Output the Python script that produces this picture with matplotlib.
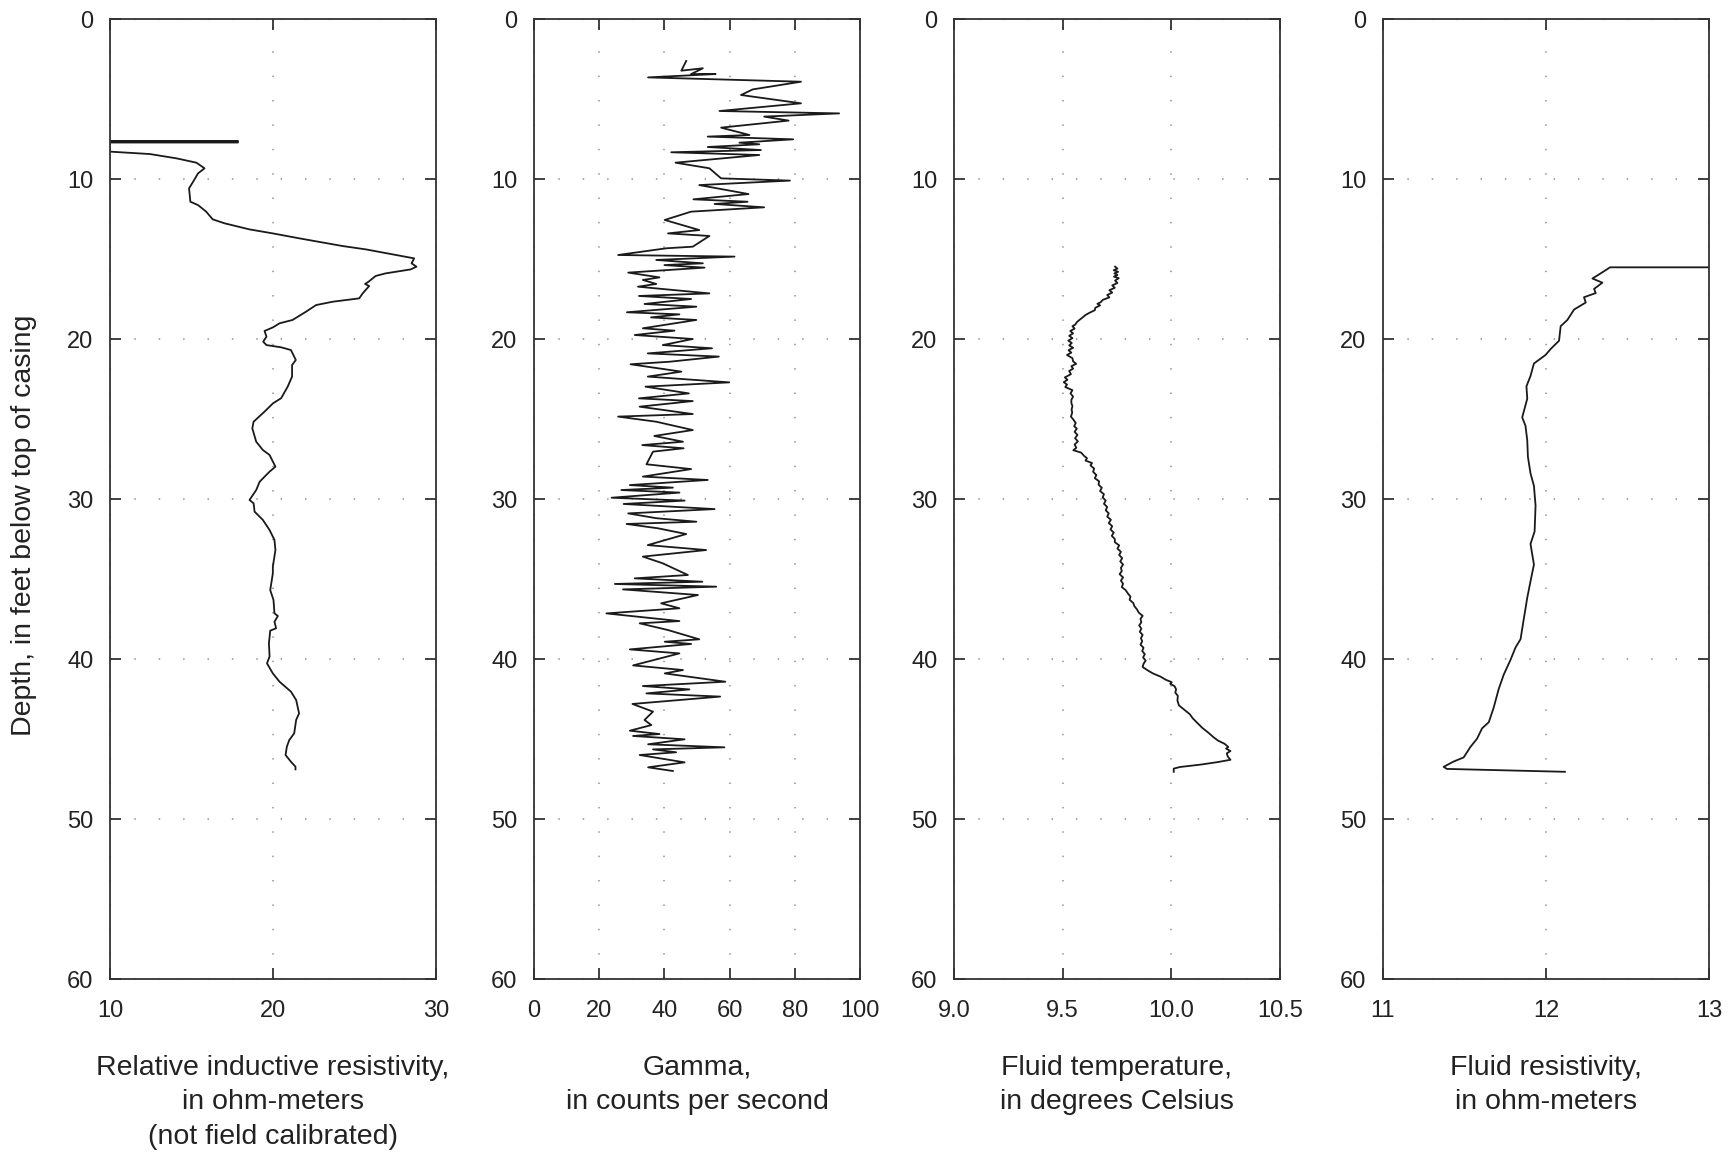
import numpy as np
import matplotlib
matplotlib.use("Agg")
import matplotlib.pyplot as plt

plt.rcParams['font.family'] = ['Liberation Sans', 'DejaVu Sans']

# relative inductive resistivity (ohm-m) vs depth (ft)
res_depth = [7.62, 7.62, 7.72, 7.72, 8.29, 8.44, 8.71, 8.98, 9.33, 9.65, 10.17, 10.58, 11.42, 11.63,
             12.04, 12.52, 12.77, 13.15, 13.40, 13.71, 14.19, 14.40, 14.96, 15.27, 15.48, 15.65,
             15.90, 16.06, 16.42, 16.56, 16.69, 17.15, 17.46, 17.67, 17.88, 18.29, 18.81, 19.02,
             19.27, 19.50, 19.85, 20.17, 20.38, 20.52, 20.69, 21.31, 21.63, 22.35, 22.98, 23.70,
             24.02, 24.54, 25.17, 25.58, 26.42, 26.94, 27.25, 27.98, 28.29, 28.92, 29.44, 30.06,
             30.27, 30.79, 31.31, 31.94, 32.56, 33.19, 34.23, 34.65, 35.69, 36.31, 37.15, 37.31,
             37.67, 38.08, 38.23, 39.02, 39.85, 40.27, 40.90, 41.42, 42.04, 42.56, 43.40, 43.81,
             44.65, 45.06, 45.48, 46.00, 46.42, 46.73, 46.90]
res_value = [10.0, 17.85, 17.85, 10.0, 10.0, 12.45, 14.08, 15.3, 15.8, 15.4, 15.1, 14.85, 14.93, 15.4,
             15.9, 16.3, 17.03, 18.56, 19.99, 21.62, 24.27, 25.7, 28.66, 28.5, 28.8, 28.45,
             26.9, 26.3, 25.86, 25.65, 25.9, 25.5, 25.29, 23.66, 22.64, 22.03, 21.2, 20.4,
             20.0, 19.48, 19.6, 19.4, 19.6, 20.5, 21.1, 21.4, 21.17, 21.17, 20.9, 20.5,
             20.0, 19.48, 18.81, 18.73, 18.97, 19.38, 19.79, 20.15, 19.79, 19.18, 18.97, 18.56,
             18.81, 18.87, 19.38, 19.79, 20.09, 20.15, 19.99, 19.99, 19.83, 20.03, 20.09, 20.3,
             20.09, 20.19, 19.83, 19.75, 19.79, 19.63, 19.99, 20.4, 21.1, 21.42, 21.6, 21.42,
             21.3, 21.0, 20.85, 20.77, 21.1, 21.38, 21.38]

# gamma (counts per second)
gam_depth = [2.62, 3.23, 3.08, 3.44, 3.44, 3.65, 3.92, 4.40, 4.75, 5.27, 5.75, 5.90, 6.10, 6.35,
             6.79, 7.25, 7.35, 7.52, 7.73, 7.83, 8.00, 8.19, 8.33, 8.50, 8.98, 9.33, 9.96, 10.10,
             10.38, 10.94, 11.27, 11.42, 11.56, 11.77, 12.04, 12.56, 13.19, 13.40, 13.56, 14.23,
             14.33, 14.75, 14.85, 15.06, 15.27, 15.38, 15.54, 15.85, 16.15, 16.31, 16.56, 16.73,
             17.15, 17.31, 17.50, 17.81, 17.98, 18.33, 18.46, 18.65, 18.81, 19.33, 19.48, 19.75,
             20.00, 20.38, 20.58, 20.90, 21.10, 21.42, 21.58, 22.04, 22.35, 22.71, 22.98, 23.40,
             23.71, 23.88, 24.23, 24.69, 24.85, 25.17, 25.69, 26.06, 26.42, 26.63, 26.83, 27.04,
             27.83, 28.13, 28.60, 28.81, 29.13, 29.29, 29.44, 29.60, 29.92, 30.10, 30.31, 30.63,
             30.90, 31.20, 31.42, 31.56, 31.83, 32.19, 32.88, 33.19, 33.60, 34.02, 34.75, 34.96,
             35.17, 35.31, 35.48, 35.65, 36.00, 36.52, 36.83, 37.15, 37.35, 37.63, 37.77, 38.19,
             38.77, 38.92, 39.06, 39.40, 39.65, 40.40, 40.69, 40.90, 41.42, 41.69, 41.90, 42.15,
             42.35, 42.81, 43.29, 43.81, 44.13, 44.48, 44.69, 44.81, 45.02, 45.33, 45.52, 45.65,
             45.83, 46.00, 46.46, 46.77, 47.00]
gam_value = [46.7, 45.2, 51.8, 48.2, 55.7, 35.0, 81.9, 67.1, 63.5, 81.9, 56.9, 93.6, 70.6, 78.1,
             57.4, 66.1, 53.3, 79.5, 63.0, 69.1, 53.3, 69.6, 42.1, 69.1, 43.4, 53.8, 57.4, 78.5,
             50.7, 65.8, 48.9, 65.5, 55.4, 70.6, 48.2, 40.1, 50.7, 41.1, 53.8, 48.7,
             40.6, 25.8, 61.5, 37.5, 51.8, 40.0, 52.3, 28.9, 38.5, 33.4, 37.5, 31.9,
             53.8, 32.2, 48.2, 33.9, 49.8, 28.5, 44.6, 35.9, 49.8, 33.4, 43.1, 30.9,
             48.7, 39.5, 54.6, 34.9, 56.7, 41.6, 29.6, 45.2, 34.9, 59.9, 34.2, 47.5,
             32.2, 48.7, 32.4, 48.7, 25.8, 37.5, 48.7, 36.9, 45.7, 33.2, 45.9, 36.5,
             34.5, 48.2, 33.4, 53.3, 29.4, 42.6, 26.8, 44.6, 23.8, 46.2, 27.5, 55.4,
             28.9, 37.5, 49.8, 28.4, 38.0, 46.7, 34.9, 52.8, 33.4, 39.5, 47.2, 30.9,
             51.6, 24.8, 55.9, 27.3, 50.3, 39.0, 44.6, 22.2, 31.4, 44.6, 32.4, 41.1,
             50.7, 40.1, 48.2, 29.4, 44.6, 30.4, 45.7, 40.1, 58.7, 33.4, 47.7, 34.5,
             57.1, 30.2, 36.5, 33.9, 36.0, 29.4, 38.5, 30.4, 46.2, 35.0, 58.4, 36.5,
             43.6, 32.4, 46.2, 35.0, 42.6]

# fluid temperature (deg C)
temp_depth = [15.48, 15.6, 15.7, 15.8, 15.9, 16.0, 16.1, 16.2, 16.35, 16.5, 16.65, 16.8, 16.95, 17.1,
              17.25, 17.4, 17.55, 17.7, 17.8, 17.9, 18.05, 18.2, 18.35, 18.5, 18.65, 18.8, 18.95,
              19.1, 19.2, 19.35, 19.5, 19.65, 19.8, 19.95, 20.1, 20.25, 20.4, 20.55, 20.7, 20.85,
              21.0, 21.2, 21.4, 21.55, 21.7, 21.85, 22.0, 22.2, 22.4, 22.55, 22.7, 22.85, 23.0,
              23.2, 23.4, 23.6, 23.8, 24.0, 24.2, 24.4, 24.6, 24.85, 25.05, 25.25, 25.45, 25.6,
              25.8, 26.0, 26.2, 26.4, 26.6, 26.8, 26.95, 27.1, 27.3, 27.45, 27.6, 27.75, 27.9,
              28.1, 28.3, 28.5, 28.7, 28.9, 29.1, 29.3, 29.5, 29.7, 29.9, 30.1, 30.3, 30.5, 30.7,
              30.9, 31.1, 31.3, 31.5, 31.7, 31.9, 32.1, 32.3, 32.5, 32.7, 32.9, 33.1, 33.3, 33.5,
              33.7, 33.9, 34.1, 34.3, 34.5, 34.7, 34.9, 35.1, 35.3, 35.5, 35.7, 35.9, 36.1, 36.3,
              36.5, 36.7, 36.9, 37.1, 37.3, 37.5, 37.7, 37.9, 38.1, 38.3, 38.5, 38.7, 38.9, 39.1,
              39.3, 39.5, 39.7, 39.9, 40.1, 40.3, 40.5, 40.7, 40.9, 41.1, 41.3, 41.45, 41.55,
              41.7, 41.9, 42.1, 42.3, 42.6, 42.9, 43.2, 43.45, 43.7, 44.0, 44.3, 44.6, 44.9, 45.1,
              45.3, 45.5, 45.6, 45.75, 45.9, 46.1, 46.3, 46.45, 46.6, 46.75, 46.85, 47.05]
temp_value = [9.741, 9.752, 9.735, 9.755, 9.738, 9.752, 9.736, 9.758, 9.741, 9.752, 9.728, 9.740,
              9.715, 9.728, 9.705, 9.715, 9.685, 9.675, 9.660, 9.672, 9.650, 9.648, 9.625, 9.605,
              9.592, 9.578, 9.565, 9.558, 9.545, 9.555, 9.535, 9.548, 9.530, 9.545, 9.526, 9.542,
              9.530, 9.548, 9.527, 9.540, 9.520, 9.545, 9.548, 9.562, 9.540, 9.548, 9.530, 9.538,
              9.510, 9.522, 9.505, 9.520, 9.512, 9.545, 9.536, 9.548, 9.540, 9.540, 9.545, 9.541,
              9.544, 9.538, 9.550, 9.560, 9.553, 9.565, 9.555, 9.568, 9.557, 9.570, 9.555, 9.563,
              9.549, 9.585, 9.598, 9.612, 9.605, 9.635, 9.628, 9.645, 9.640, 9.655, 9.648, 9.668,
              9.665, 9.680, 9.672, 9.690, 9.684, 9.698, 9.690, 9.705, 9.698, 9.712, 9.705, 9.722,
              9.712, 9.728, 9.720, 9.735, 9.726, 9.740, 9.740, 9.760, 9.752, 9.768, 9.760, 9.774,
              9.765, 9.778, 9.768, 9.772, 9.762, 9.778, 9.768, 9.778, 9.772, 9.790, 9.800, 9.812,
              9.808, 9.825, 9.830, 9.842, 9.850, 9.868, 9.858, 9.862, 9.852, 9.862, 9.855, 9.868,
              9.860, 9.866, 9.858, 9.872, 9.866, 9.878, 9.870, 9.882, 9.872, 9.868, 9.890, 9.915,
              9.950, 9.975, 10.002, 9.995, 10.015, 10.022, 10.018, 10.030, 10.028, 10.035, 10.062,
              10.085, 10.098, 10.120, 10.142, 10.170, 10.195, 10.215, 10.245, 10.262, 10.252,
              10.272, 10.255, 10.260, 10.272, 10.210, 10.135, 10.040, 10.011, 10.011]

# fluid resistivity (ohm-m)
fres_depth = [15.52, 15.52, 15.83, 16.22, 16.48, 16.87, 17.13, 17.39, 17.72, 18.16, 18.81, 19.20,
              20.11, 20.63, 21.00, 21.53, 22.31, 22.96, 23.73, 24.90, 25.42, 26.33, 27.36, 28.40,
              29.18, 30.42, 32.03, 32.81, 34.10, 35.14, 36.17, 37.73, 38.76, 39.28, 40.06, 40.97,
              41.87, 43.04, 43.95, 44.33, 44.98, 45.50, 46.15, 46.41, 46.74, 46.87, 47.05]
fres_value = [13.0, 12.393, 12.346, 12.285, 12.346, 12.295, 12.305, 12.233, 12.244, 12.172, 12.131,
              12.09, 12.08, 12.028, 11.997, 11.926, 11.905, 11.88, 11.885, 11.854, 11.874, 11.885,
              11.889, 11.905, 11.926, 11.936, 11.93, 11.905, 11.926, 11.905, 11.885, 11.86, 11.844,
              11.813, 11.782, 11.741, 11.71, 11.679, 11.649, 11.608, 11.577, 11.536, 11.495,
              11.433, 11.372, 11.392, 12.116]

panels = [
    (res_value, res_depth, (10, 30), [10, 20, 30], ['10', '20', '30'],
     'Relative inductive resistivity,\nin ohm-meters\n(not field calibrated)'),
    (gam_value, gam_depth, (0, 100), [0, 20, 40, 60, 80, 100], ['0', '20', '40', '60', '80', '100'],
     'Gamma,\nin counts per second'),
    (temp_value, temp_depth, (9.0, 10.5), [9.0, 9.5, 10.0, 10.5], ['9.0', '9.5', '10.0', '10.5'],
     'Fluid temperature,\nin degrees Celsius'),
    (fres_value, fres_depth, (11, 13), [11, 12, 13], ['11', '12', '13'],
     'Fluid resistivity,\nin ohm-meters'),
]

fig = plt.figure(figsize=(17.33, 11.52), dpi=100)
lefts = [110, 534, 954, 1383]
W, H = 1733.0, 1152.0

for left, (vals, depth, xlim, xt, xtl, label) in zip(lefts, panels):
    ax = fig.add_axes([left / W, 1 - 979 / H, 326 / W, 960 / H])
    ax.plot(vals, depth, color='#1a1a1a', lw=1.3)
    ax.set_xlim(*xlim)
    ax.set_ylim(60, 0)
    ax.set_xticks(xt)
    ax.set_xticklabels(xtl)
    ax.set_yticks(range(0, 61, 10))
    ax.grid(True, linestyle=(0, (0.7, 11)), color='#aaaaaa', lw=1.5)
    ax.tick_params(direction='in', length=8, width=1.2, top=True, right=True,
                   labelsize=17, colors='#222222')
    ax.tick_params(axis='x', pad=15)
    ax.tick_params(axis='y', pad=12)
    for s in ax.spines.values():
        s.set_linewidth(1.3)
        s.set_color('#333333')
    ax.text(0.5, -0.079, label, transform=ax.transAxes, ha='center', va='top',
            fontsize=20.5, color='#222222', linespacing=1.42)

fig.text(24 / W, 1 - 525 / H, 'Depth, in feet below top of casing', rotation=90,
         ha='center', va='center', fontsize=20.5, color='#222222')

fig.savefig('out.png', dpi=100)
